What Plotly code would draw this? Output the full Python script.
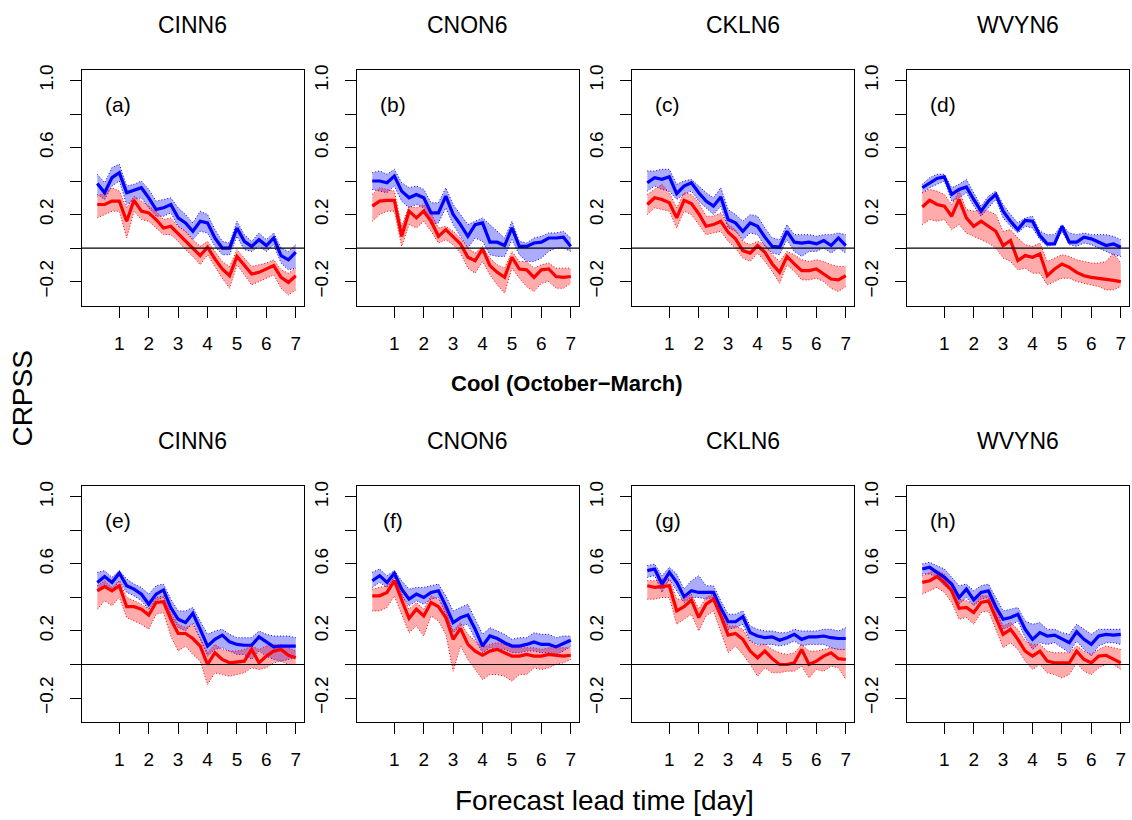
import plotly.graph_objects as go

W, H = 1132, 820

lead = [0.25, 0.5, 0.75, 1.0, 1.25, 1.5, 1.75, 2.0, 2.25, 2.5, 2.75, 3.0, 3.25, 3.5,
        3.75, 4.0, 4.25, 4.5, 4.75, 5.0, 5.25, 5.5, 5.75, 6.0, 6.25, 6.5, 6.75, 7.0]

stations = ["CINN6", "CNON6", "CKLN6", "WVYN6"]
panel_tags = ["(a)", "(b)", "(c)", "(d)", "(e)", "(f)", "(g)", "(h)"]

x_ticks = [1, 2, 3, 4, 5, 6, 7]
y_ticks = [-0.2, 0.0, 0.2, 0.4, 0.6, 0.8, 1.0]
y_tick_text = ["\u22120.2", "", "0.2", "", "0.6", "", "1.0"]

# ---- (a) CINN6 cool
a_blue = [0.385, 0.33, 0.42, 0.45, 0.33, 0.345, 0.36, 0.30, 0.23, 0.24, 0.26, 0.18, 0.15, 0.10, 0.16, 0.15, 0.06, 0.0, 0.0, 0.12, 0.04, 0.01, 0.05, 0.015, 0.06, -0.045, -0.07, -0.025]
a_blue_hi = [0.44, 0.39, 0.48, 0.50, 0.37, 0.38, 0.40, 0.35, 0.28, 0.29, 0.30, 0.24, 0.20, 0.15, 0.22, 0.20, 0.11, 0.04, 0.03, 0.16, 0.08, 0.04, 0.09, 0.05, 0.09, 0.0, -0.02, 0.02]
a_blue_lo = [0.32, 0.29, 0.37, 0.40, 0.26, 0.29, 0.30, 0.24, 0.19, 0.19, 0.21, 0.13, 0.10, 0.05, 0.10, 0.09, 0.01, -0.04, -0.04, 0.07, -0.01, -0.02, 0.01, -0.02, 0.02, -0.09, -0.13, -0.12]
a_red = [0.26, 0.26, 0.28, 0.28, 0.16, 0.285, 0.22, 0.21, 0.17, 0.12, 0.13, 0.085, 0.045, -0.005, -0.045, 0.005, -0.065, -0.125, -0.165, -0.05, -0.105, -0.155, -0.145, -0.125, -0.105, -0.175, -0.205, -0.165]
a_red_hi = [0.31, 0.33, 0.36, 0.34, 0.24, 0.31, 0.28, 0.25, 0.22, 0.17, 0.18, 0.13, 0.10, 0.05, 0.01, 0.04, -0.02, -0.08, -0.11, -0.01, -0.06, -0.11, -0.10, -0.09, -0.07, -0.13, -0.15, -0.12]
a_red_lo = [0.18, 0.20, 0.22, 0.22, 0.06, 0.22, 0.17, 0.16, 0.12, 0.08, 0.08, 0.04, -0.01, -0.05, -0.10, -0.04, -0.11, -0.18, -0.24, -0.10, -0.16, -0.22, -0.20, -0.18, -0.16, -0.24, -0.28, -0.25]

# ---- (b) CNON6 cool
b_blue = [0.40, 0.40, 0.39, 0.43, 0.34, 0.30, 0.32, 0.30, 0.21, 0.21, 0.31, 0.20, 0.14, 0.07, 0.14, 0.15, 0.035, 0.035, 0.015, 0.12, 0.01, 0.01, 0.03, 0.035, 0.06, 0.06, 0.065, 0.01]
b_blue_hi = [0.45, 0.46, 0.44, 0.47, 0.39, 0.36, 0.37, 0.35, 0.27, 0.27, 0.36, 0.26, 0.20, 0.14, 0.16, 0.18, 0.14, 0.10, 0.06, 0.16, 0.04, 0.03, 0.06, 0.07, 0.09, 0.09, 0.10, 0.06]
b_blue_lo = [0.35, 0.34, 0.33, 0.37, 0.28, 0.24, 0.26, 0.24, 0.14, 0.15, 0.24, 0.14, 0.07, 0.00, 0.06, 0.04, -0.04, -0.05, -0.05, 0.05, -0.04, -0.08, -0.08, -0.06, -0.02, 0.0, 0.0, -0.02]
b_red = [0.25, 0.28, 0.285, 0.285, 0.07, 0.22, 0.18, 0.22, 0.16, 0.07, 0.11, 0.07, 0.025, -0.055, -0.075, -0.005, -0.105, -0.145, -0.175, -0.055, -0.125, -0.13, -0.175, -0.13, -0.125, -0.17, -0.175, -0.17]
b_red_hi = [0.32, 0.36, 0.35, 0.34, 0.13, 0.25, 0.24, 0.26, 0.21, 0.12, 0.13, 0.10, 0.06, 0.0, -0.03, 0.01, -0.06, -0.10, -0.12, -0.02, -0.08, -0.08, -0.12, -0.10, -0.09, -0.12, -0.12, -0.12]
b_red_lo = [0.16, 0.20, 0.22, 0.22, 0.01, 0.14, 0.12, 0.16, 0.10, 0.03, 0.05, 0.02, -0.03, -0.12, -0.15, -0.08, -0.16, -0.22, -0.27, -0.12, -0.18, -0.23, -0.26, -0.21, -0.20, -0.24, -0.24, -0.21]

# ---- (c) CKLN6 cool
c_blue = [0.39, 0.42, 0.41, 0.425, 0.325, 0.37, 0.39, 0.33, 0.28, 0.25, 0.305, 0.17, 0.15, 0.10, 0.15, 0.13, 0.065, 0.01, 0.005, 0.10, 0.035, 0.03, 0.035, 0.025, 0.045, 0.015, 0.06, 0.015]
c_blue_hi = [0.46, 0.46, 0.47, 0.47, 0.38, 0.40, 0.41, 0.37, 0.33, 0.30, 0.36, 0.23, 0.20, 0.16, 0.20, 0.19, 0.12, 0.06, 0.05, 0.14, 0.08, 0.08, 0.08, 0.07, 0.08, 0.08, 0.09, 0.08]
c_blue_lo = [0.34, 0.37, 0.35, 0.34, 0.29, 0.32, 0.34, 0.28, 0.24, 0.20, 0.25, 0.12, 0.10, 0.05, 0.09, 0.08, 0.01, -0.03, -0.04, 0.05, -0.02, -0.05, -0.02, -0.02, 0.00, -0.03, 0.0, -0.03]
c_red = [0.26, 0.30, 0.29, 0.27, 0.18, 0.285, 0.265, 0.205, 0.13, 0.14, 0.16, 0.095, 0.055, -0.015, -0.03, 0.015, -0.025, -0.095, -0.145, -0.05, -0.095, -0.135, -0.135, -0.125, -0.155, -0.185, -0.19, -0.165]
c_red_hi = [0.32, 0.35, 0.38, 0.33, 0.24, 0.33, 0.32, 0.27, 0.19, 0.19, 0.21, 0.14, 0.11, 0.04, 0.02, 0.04, 0.02, -0.04, -0.08, -0.02, -0.04, -0.07, -0.08, -0.07, -0.08, -0.10, -0.11, -0.11]
c_red_lo = [0.20, 0.24, 0.23, 0.22, 0.12, 0.22, 0.20, 0.14, 0.08, 0.09, 0.10, 0.04, 0.00, -0.06, -0.08, -0.03, -0.08, -0.14, -0.21, -0.10, -0.14, -0.19, -0.19, -0.18, -0.20, -0.24, -0.26, -0.23]

# ---- (d) WVYN6 cool
d_blue = [0.36, 0.39, 0.415, 0.425, 0.32, 0.35, 0.365, 0.29, 0.22, 0.28, 0.32, 0.22, 0.16, 0.11, 0.165, 0.16, 0.075, 0.025, 0.025, 0.13, 0.035, 0.035, 0.065, 0.055, 0.035, 0.015, 0.025, 0.005]
d_blue_hi = [0.38, 0.42, 0.44, 0.44, 0.36, 0.38, 0.41, 0.33, 0.25, 0.31, 0.34, 0.26, 0.20, 0.15, 0.18, 0.19, 0.10, 0.08, 0.08, 0.14, 0.09, 0.08, 0.09, 0.08, 0.08, 0.08, 0.07, 0.05]
d_blue_lo = [0.33, 0.36, 0.38, 0.40, 0.28, 0.30, 0.33, 0.25, 0.19, 0.24, 0.29, 0.18, 0.13, 0.09, 0.13, 0.12, 0.05, 0.01, 0.02, 0.10, 0.02, 0.01, 0.03, 0.02, 0.0, -0.02, -0.04, -0.05]
d_red = [0.245, 0.285, 0.26, 0.25, 0.19, 0.29, 0.18, 0.13, 0.16, 0.13, 0.10, 0.015, 0.045, -0.075, -0.045, -0.055, -0.035, -0.165, -0.125, -0.095, -0.115, -0.145, -0.165, -0.175, -0.18, -0.187, -0.193, -0.20]
d_red_hi = [0.33, 0.35, 0.34, 0.32, 0.26, 0.34, 0.23, 0.22, 0.23, 0.22, 0.20, 0.10, 0.11, 0.06, 0.02, 0.01, 0.03, -0.08, -0.06, -0.04, -0.05, -0.07, -0.08, -0.09, -0.09, -0.08, -0.03, -0.09]
d_red_lo = [0.14, 0.17, 0.16, 0.17, 0.11, 0.14, 0.09, 0.07, 0.05, 0.03, 0.0, -0.06, -0.08, -0.13, -0.12, -0.15, -0.15, -0.22, -0.20, -0.18, -0.18, -0.20, -0.21, -0.22, -0.23, -0.25, -0.25, -0.23]

# ---- (e) CINN6 warm
e_blue = [0.49, 0.525, 0.49, 0.545, 0.47, 0.45, 0.42, 0.36, 0.42, 0.445, 0.34, 0.27, 0.25, 0.305, 0.21, 0.11, 0.15, 0.175, 0.135, 0.12, 0.115, 0.115, 0.165, 0.135, 0.105, 0.11, 0.11, 0.11]
e_blue_hi = [0.55, 0.56, 0.52, 0.56, 0.51, 0.48, 0.46, 0.42, 0.47, 0.48, 0.39, 0.32, 0.32, 0.34, 0.26, 0.18, 0.20, 0.21, 0.18, 0.16, 0.16, 0.16, 0.20, 0.18, 0.17, 0.17, 0.17, 0.16]
e_blue_lo = [0.44, 0.48, 0.44, 0.50, 0.43, 0.41, 0.38, 0.33, 0.38, 0.40, 0.29, 0.22, 0.20, 0.25, 0.15, 0.05, 0.09, 0.10, 0.08, 0.06, 0.06, 0.03, 0.08, 0.05, 0.03, 0.02, 0.03, 0.04]
e_red = [0.44, 0.465, 0.44, 0.47, 0.345, 0.345, 0.33, 0.295, 0.37, 0.375, 0.27, 0.185, 0.185, 0.155, 0.11, 0.0, 0.07, 0.03, 0.01, 0.015, 0.02, 0.09, 0.01, 0.05, 0.08, 0.09, 0.055, 0.04]
e_red_hi = [0.47, 0.50, 0.46, 0.50, 0.40, 0.38, 0.36, 0.33, 0.40, 0.41, 0.31, 0.24, 0.22, 0.24, 0.16, 0.07, 0.12, 0.09, 0.08, 0.08, 0.09, 0.11, 0.09, 0.11, 0.12, 0.12, 0.10, 0.08]
e_red_lo = [0.33, 0.38, 0.35, 0.40, 0.28, 0.26, 0.24, 0.21, 0.30, 0.31, 0.17, 0.08, 0.11, 0.06, 0.02, -0.12, -0.05, -0.06, -0.07, -0.06, -0.05, -0.02, -0.03, -0.02, 0.01, 0.02, 0.0, 0.0]

# ---- (f) CNON6 warm
f_blue = [0.50, 0.53, 0.49, 0.545, 0.45, 0.39, 0.42, 0.40, 0.43, 0.44, 0.35, 0.25, 0.28, 0.295, 0.21, 0.11, 0.17, 0.155, 0.13, 0.11, 0.11, 0.12, 0.135, 0.12, 0.12, 0.105, 0.125, 0.145]
f_blue_hi = [0.55, 0.57, 0.53, 0.56, 0.50, 0.45, 0.46, 0.46, 0.47, 0.48, 0.41, 0.32, 0.34, 0.36, 0.27, 0.18, 0.22, 0.20, 0.18, 0.15, 0.16, 0.16, 0.19, 0.18, 0.18, 0.16, 0.17, 0.17]
f_blue_lo = [0.46, 0.49, 0.46, 0.52, 0.41, 0.35, 0.38, 0.36, 0.39, 0.40, 0.30, 0.19, 0.23, 0.24, 0.15, 0.07, 0.10, 0.09, 0.09, 0.07, 0.07, 0.08, 0.08, 0.07, 0.07, 0.06, 0.08, 0.11]
f_red = [0.41, 0.41, 0.43, 0.50, 0.385, 0.275, 0.33, 0.29, 0.37, 0.345, 0.28, 0.15, 0.215, 0.12, 0.08, 0.055, 0.08, 0.09, 0.07, 0.05, 0.05, 0.06, 0.05, 0.05, 0.06, 0.055, 0.05, 0.055]
f_red_hi = [0.45, 0.46, 0.47, 0.52, 0.42, 0.33, 0.37, 0.33, 0.41, 0.39, 0.33, 0.20, 0.25, 0.18, 0.14, 0.10, 0.12, 0.13, 0.12, 0.10, 0.10, 0.10, 0.10, 0.09, 0.10, 0.10, 0.10, 0.10]
f_red_lo = [0.32, 0.32, 0.34, 0.41, 0.30, 0.19, 0.23, 0.17, 0.29, 0.26, 0.18, -0.04, 0.11, 0.03, -0.03, -0.09, -0.06, -0.06, -0.07, -0.10, -0.06, -0.06, -0.02, -0.03, -0.02, 0.0, 0.01, 0.03]

# ---- (g) CKLN6 warm
g_blue = [0.56, 0.57, 0.48, 0.55, 0.49, 0.405, 0.44, 0.43, 0.43, 0.43, 0.335, 0.255, 0.255, 0.285, 0.19, 0.17, 0.16, 0.165, 0.145, 0.16, 0.18, 0.15, 0.165, 0.165, 0.17, 0.16, 0.155, 0.155]
g_blue_hi = [0.59, 0.60, 0.53, 0.58, 0.54, 0.45, 0.50, 0.53, 0.47, 0.47, 0.38, 0.30, 0.30, 0.32, 0.23, 0.21, 0.20, 0.20, 0.19, 0.19, 0.21, 0.20, 0.20, 0.20, 0.21, 0.21, 0.20, 0.22]
g_blue_lo = [0.52, 0.53, 0.43, 0.51, 0.44, 0.37, 0.40, 0.40, 0.39, 0.40, 0.30, 0.21, 0.22, 0.24, 0.14, 0.12, 0.12, 0.12, 0.11, 0.12, 0.14, 0.11, 0.12, 0.12, 0.12, 0.10, 0.09, 0.09]
g_red = [0.47, 0.46, 0.465, 0.47, 0.32, 0.345, 0.385, 0.28, 0.36, 0.39, 0.29, 0.175, 0.185, 0.15, 0.08, 0.04, 0.08, 0.035, 0.0, 0.0, 0.01, 0.09, 0.0, 0.02, 0.05, 0.07, 0.035, 0.03]
g_red_hi = [0.50, 0.50, 0.51, 0.51, 0.39, 0.39, 0.42, 0.33, 0.40, 0.42, 0.35, 0.23, 0.23, 0.21, 0.14, 0.11, 0.12, 0.09, 0.07, 0.06, 0.07, 0.12, 0.08, 0.08, 0.09, 0.10, 0.09, 0.09]
g_red_lo = [0.39, 0.39, 0.40, 0.40, 0.24, 0.27, 0.30, 0.20, 0.29, 0.32, 0.20, 0.07, 0.11, 0.06, 0.0, -0.07, -0.02, -0.05, -0.05, -0.04, -0.04, -0.01, -0.08, -0.03, -0.04, -0.01, -0.02, -0.09]

# ---- (h) WVYN6 warm
h_blue = [0.57, 0.58, 0.55, 0.52, 0.48, 0.40, 0.45, 0.385, 0.43, 0.44, 0.345, 0.27, 0.28, 0.30, 0.21, 0.15, 0.19, 0.17, 0.175, 0.15, 0.13, 0.195, 0.15, 0.12, 0.17, 0.18, 0.175, 0.18]
h_blue_hi = [0.60, 0.61, 0.59, 0.57, 0.52, 0.47, 0.48, 0.44, 0.47, 0.48, 0.40, 0.32, 0.33, 0.34, 0.26, 0.24, 0.25, 0.21, 0.21, 0.19, 0.18, 0.24, 0.21, 0.18, 0.21, 0.21, 0.21, 0.21]
h_blue_lo = [0.54, 0.54, 0.52, 0.47, 0.44, 0.36, 0.40, 0.35, 0.39, 0.40, 0.30, 0.21, 0.23, 0.26, 0.16, 0.09, 0.13, 0.12, 0.13, 0.10, 0.07, 0.14, 0.09, 0.05, 0.11, 0.13, 0.13, 0.12]
h_red = [0.49, 0.50, 0.525, 0.49, 0.44, 0.335, 0.34, 0.31, 0.37, 0.38, 0.28, 0.18, 0.21, 0.15, 0.08, 0.05, 0.08, 0.02, 0.01, 0.01, 0.01, 0.08, 0.03, 0.01, 0.05, 0.055, 0.035, 0.01]
h_red_hi = [0.53, 0.55, 0.56, 0.54, 0.48, 0.39, 0.38, 0.36, 0.41, 0.41, 0.33, 0.23, 0.25, 0.21, 0.14, 0.12, 0.12, 0.08, 0.07, 0.07, 0.07, 0.11, 0.08, 0.06, 0.09, 0.11, 0.10, 0.09]
h_red_lo = [0.42, 0.44, 0.46, 0.43, 0.37, 0.27, 0.28, 0.24, 0.31, 0.32, 0.21, 0.10, 0.13, 0.09, 0.02, -0.03, 0.0, -0.05, -0.06, -0.08, -0.06, 0.01, -0.04, -0.06, -0.02, 0.0, 0.0, -0.03]

panels = [
    (a_blue, a_blue_lo, a_blue_hi, a_red, a_red_lo, a_red_hi),
    (b_blue, b_blue_lo, b_blue_hi, b_red, b_red_lo, b_red_hi),
    (c_blue, c_blue_lo, c_blue_hi, c_red, c_red_lo, c_red_hi),
    (d_blue, d_blue_lo, d_blue_hi, d_red, d_red_lo, d_red_hi),
    (e_blue, e_blue_lo, e_blue_hi, e_red, e_red_lo, e_red_hi),
    (f_blue, f_blue_lo, f_blue_hi, f_red, f_red_lo, f_red_hi),
    (g_blue, g_blue_lo, g_blue_hi, g_red, g_red_lo, g_red_hi),
    (h_blue, h_blue_lo, h_blue_hi, h_red, h_red_lo, h_red_hi),
]

# ---------------- layout geometry (pixels) ----------------
FONT = "Liberation Sans, Arial, sans-serif"
box_left0, box_w, col_pitch = 81.7, 222.3, 275.0
row_tops = [65.0, 484.0]
box_h = 237.7

fig = go.Figure()
layout = dict(
    width=W, height=H, margin=dict(l=0, r=0, t=0, b=0),
    paper_bgcolor="white", plot_bgcolor="white", showlegend=False,
    font=dict(family=FONT, color="black"),
)
annotations = []
shapes = []

styles = [("rgb(0,0,255)", "rgba(0,0,255,0.33)"), ("rgb(255,0,0)", "rgba(255,0,0,0.33)")]

for k in range(8):
    r, c = divmod(k, 4)
    idx = "" if k == 0 else str(k + 1)
    xa, ya = "x" + idx, "y" + idx
    left = box_left0 + c * col_pitch
    right = left + box_w
    top = row_tops[r]
    bottom = top + box_h
    layout["xaxis" + idx] = dict(
        domain=[left / W, right / W], anchor=ya, range=[-0.28, 7.28],
        tickmode="array", tickvals=x_ticks, ticktext=[str(v) for v in x_ticks],
        ticks="outside", ticklen=11, tickwidth=1.2, tickcolor="black",
        showline=True, linecolor="black", linewidth=1.2, mirror=True,
        showgrid=False, zeroline=False, fixedrange=True,
        tickfont=dict(family=FONT, size=19, color="black"), ticklabelstandoff=9,
    )
    layout["yaxis" + idx] = dict(
        domain=[1 - bottom / H, 1 - top / H], anchor=xa, range=[-0.345, 1.065],
        tickmode="array", tickvals=y_ticks, ticktext=y_tick_text,
        ticks="outside", ticklen=11, tickwidth=1.2, tickcolor="black",
        showline=True, linecolor="black", linewidth=1.2, mirror=True,
        showgrid=False, zeroline=False, fixedrange=True, tickangle=-90,
        tickfont=dict(family=FONT, size=19, color="black"), ticklabelstandoff=9,
    )
    series = panels[k]
    for s, (mid, lo, hi) in enumerate([(series[0], series[1], series[2]), (series[3], series[4], series[5])]):
        col, fillc = styles[s]
        fig.add_trace(go.Scatter(x=lead + lead[::-1], y=hi + lo[::-1], fill="toself",
                                 fillcolor=fillc, line=dict(width=0), mode="lines",
                                 hoverinfo="skip", xaxis=xa, yaxis=ya))
        for edge in (hi, lo):
            fig.add_trace(go.Scatter(x=lead, y=edge, mode="lines",
                                     line=dict(color=col, width=1, dash="1px,2px"),
                                     xaxis=xa, yaxis=ya, hoverinfo="skip"))
    for s, mid in enumerate([series[0], series[3]]):
        col, _ = styles[s]
        fig.add_trace(go.Scatter(x=lead, y=mid, mode="lines", line=dict(color=col, width=3.2),
                                 xaxis=xa, yaxis=ya))
    shapes.append(dict(type="line", xref=xa + " domain", yref=ya, x0=0, x1=1, y0=0, y1=0,
                       line=dict(color="black", width=1.2)))
    # station title
    annotations.append(dict(text=stations[c], x=(left + right) / 2 / W, y=1 - (top - 45) / H,
                            xref="paper", yref="paper", showarrow=False,
                            font=dict(family=FONT, size=23, color="black"),
                            xanchor="center", yanchor="middle"))
    # panel tag
    annotations.append(dict(text=panel_tags[k], x=(left + 36) / W, y=1 - (top + 35) / H,
                            xref="paper", yref="paper", showarrow=False,
                            font=dict(family=FONT, size=21, color="black"),
                            xanchor="center", yanchor="middle"))

annotations.append(dict(text="<b>Cool (October\u2212March)</b>", x=567 / W, y=1 - 381 / H,
                        xref="paper", yref="paper", showarrow=False,
                        font=dict(family=FONT, size=22, color="black"),
                        xanchor="center", yanchor="middle"))
annotations.append(dict(text="CRPSS", x=23 / W, y=1 - 396 / H, textangle=-90,
                        xref="paper", yref="paper", showarrow=False,
                        font=dict(family=FONT, size=28, color="black"),
                        xanchor="center", yanchor="middle"))
annotations.append(dict(text="Forecast lead time [day]", x=604 / W, y=1 - 800 / H,
                        xref="paper", yref="paper", showarrow=False,
                        font=dict(family=FONT, size=28, color="black"),
                        xanchor="center", yanchor="middle"))

layout["annotations"] = annotations
layout["shapes"] = shapes
fig.update_layout(**layout)
fig.write_html("out.html")
